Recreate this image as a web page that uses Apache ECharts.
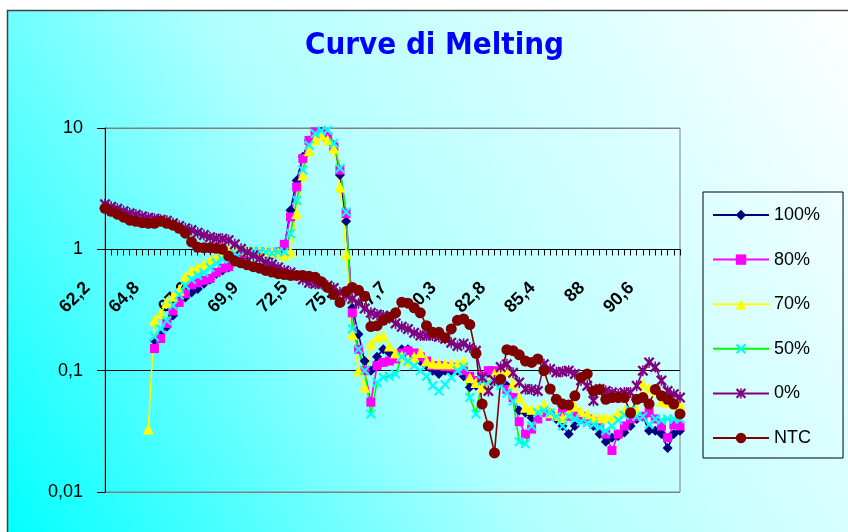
<!DOCTYPE html>
<html><head><meta charset="utf-8">
<script src="https://cdn.jsdelivr.net/npm/echarts@6/dist/echarts.min.js"></script>
<style>html,body{margin:0;padding:0;background:#fff}#c{width:848px;height:532px}</style>
</head><body><div id="c"></div>
<script>
// x axis: one category per reading, a label every 8 readings
const tickLabels = ['62,2','64,8','67,3','69,9','72,5','75,1','77,7','80,3','82,8','85,4','88','90,6'];
const labelEvery = 8;
const nCategories = 94;

const seriesNames = ['100%','80%','70%','50%','0%','NTC'];

const s100 = [null,null,null,null,null,null,null,null,
 0.177,0.2,0.23,0.285,0.38,0.40,0.44,0.47,0.52,0.565,0.63,0.67,0.71,0.80,0.84,
 0.9,0.92,0.93,0.92,0.9,0.95,1.04,
 2.1,3.7,5.8,7.9,9.2,9.3,8.9,7.2,4.1,1.7,
 0.33,0.2,0.12,0.1,0.13,0.15,0.14,0.13,0.15,0.15,0.13,0.12,0.11,0.1,0.094,0.1,0.1,0.1,0.09,0.073,
 0.075,0.09,0.095,0.09,0.085,0.075,0.06,0.047,0.045,0.041,0.045,0.047,0.045,0.04,0.035,0.03,0.035,0.04,0.042,0.035,
 0.03,0.026,0.028,0.029,0.031,0.035,0.04,0.042,0.032,0.032,0.03,0.023,0.03,0.032];

const s80 = [null,null,null,null,null,null,null,null,
 0.152,0.184,0.245,0.31,0.365,0.43,0.51,0.53,0.555,0.575,0.645,0.70,0.72,0.84,0.91,
 0.93,0.95,0.95,0.94,0.92,0.95,1.1,
 1.85,3.27,5.6,7.9,9.3,9.0,8.5,7.0,4.5,1.97,
 0.3,0.15,0.1,0.055,0.11,0.117,0.12,0.125,0.14,0.146,0.14,0.13,0.12,0.11,0.11,0.108,0.107,0.104,0.1,0.09,
 0.083,0.09,0.1,0.1,0.085,0.07,0.06,0.038,0.03,0.033,0.04,0.045,0.042,0.042,0.045,0.042,0.045,0.042,0.04,0.038,
 0.035,0.03,0.022,0.03,0.035,0.04,0.042,0.042,0.045,0.04,0.035,0.028,0.036,0.035];

const s70 = [null,null,null,null,null,null,null,0.033,
 0.26,0.296,0.365,0.41,0.46,0.6,0.67,0.71,0.75,0.81,0.86,0.93,0.97,1.0,1.0,
 0.98,0.97,0.97,0.96,0.95,0.94,0.9,
 0.95,1.97,4.1,6.5,8.0,8.75,8.0,6.8,3.27,0.92,
 0.2,0.1,0.073,0.166,0.188,0.195,0.16,0.14,0.133,0.12,0.13,0.141,0.12,0.115,0.114,0.114,0.114,0.114,0.12,0.088,
 0.08,0.073,0.08,0.094,0.1,0.1,0.078,0.06,0.05,0.048,0.048,0.053,0.045,0.043,0.041,0.045,0.051,0.046,0.044,0.041,
 0.041,0.041,0.041,0.045,0.047,0.047,0.047,0.078,0.072,0.068,0.056,0.055,0.053,0.053];

const s50 = [null,null,null,null,null,null,null,null,
 0.19,0.22,0.258,0.345,0.42,0.5,0.565,0.61,0.645,0.71,0.77,0.83,0.875,0.93,0.96,
 0.95,0.97,0.96,0.95,0.93,0.95,0.95,
 1.35,2.54,4.5,7.2,9.0,9.5,9.6,7.5,4.65,2.03,
 0.22,0.15,0.1,0.044,0.08,0.088,0.09,0.094,0.13,0.12,0.11,0.1,0.09,0.075,0.068,0.077,0.088,0.1,0.107,0.06,
 0.044,0.083,0.08,0.078,0.075,0.065,0.056,0.026,0.025,0.035,0.045,0.047,0.045,0.042,0.035,0.042,0.04,0.038,0.037,0.036,
 0.034,0.032,0.035,0.039,0.043,0.047,0.042,0.042,0.036,0.04,0.039,0.04,0.04,0.04];

const s0 = [2.35,2.24,2.16,2.06,1.98,1.93,1.87,1.82,1.79,1.75,1.72,1.64,1.56,1.49,1.44,1.37,1.31,1.26,1.23,1.22,
 1.19,1.10,1.01,0.945,0.89,0.84,0.785,0.75,0.71,0.67,0.645,0.61,0.565,0.53,0.52,0.52,0.50,0.48,0.44,0.415,
 0.39,0.36,0.325,0.30,0.29,0.285,0.27,0.245,0.23,0.22,0.205,0.195,0.195,0.195,0.19,0.183,0.17,0.16,0.167,0.155,
 0.146,0.088,0.068,0.083,0.107,0.113,0.096,0.08,0.0706,0.07,0.068,0.113,0.103,0.097,0.098,0.1,0.094,0.083,0.075,0.0565,
 0.0706,0.068,0.066,0.064,0.066,0.066,0.075,0.1,0.117,0.107,0.083,0.068,0.064,0.06];

const sNTC = [2.18,2.06,1.95,1.84,1.74,1.70,1.66,1.64,1.64,1.70,1.64,1.58,1.49,1.36,1.15,1.04,1.03,1.03,1.02,1.0,
 0.88,0.80,0.775,0.745,0.72,0.70,0.67,0.65,0.63,0.62,0.61,0.61,0.61,0.60,0.59,0.54,0.485,0.425,0.365,0.45,
 0.485,0.46,0.41,0.231,0.235,0.26,0.276,0.30,0.367,0.36,0.33,0.30,0.235,0.207,0.207,0.187,0.221,0.26,0.267,0.24,
 0.139,0.053,0.035,0.021,0.085,0.149,0.146,0.135,0.12,0.117,0.125,0.1,0.0706,0.058,0.053,0.052,0.062,0.088,0.094,0.068,
 0.07,0.058,0.06,0.06,0.06,0.045,0.058,0.06,0.053,0.07,0.062,0.058,0.053,0.044];

const categories = [];
for (let i = 0; i < nCategories; i++) categories.push(String(i));

const X_PATH = 'path://M0,1.5L1.5,0L5,3.5L8.5,0L10,1.5L6.5,5L10,8.5L8.5,10L5,6.5L1.5,10L0,8.5L3.5,5Z';
const STAR_PATH = 'path://M0,1.5L1.5,0L5,3.5L8.5,0L10,1.5L6.5,5L10,8.5L8.5,10L5,6.5L1.5,10L0,8.5L3.5,5Z M4.3,0L5.7,0L5.7,10L4.3,10Z';

const FONT = 'Liberation Sans, Arial, sans-serif';

function mk(name, data, lineColor, markColor, symbol, size) {
  return {
    name, type: 'line', data, symbol, symbolSize: size,
    xAxisIndex: 0, yAxisIndex: 0,
    showSymbol: true, showAllSymbol: true,
    connectNulls: false, animation: false,
    lineStyle: { color: lineColor, width: 1.6 },
    itemStyle: { color: markColor, borderWidth: 0 },
    emphasis: { disabled: true }
  };
}

const PLOT = { left: 105, top: 128, right: 168 };
const AXIS_Y = 249.5;

const chart = echarts.init(document.getElementById('c'));
chart.setOption({
  backgroundColor: { type: 'linear', x: 0, y: 1, x2: 1, y2: 0, colorStops: [
    { offset: 0, color: '#00FFFF' }, { offset: 0.45, color: '#B0FFFF' }, { offset: 1, color: '#FFFFFF' }] },
  animation: false,
  graphic: [
    { type: 'rect', silent: true, shape: { x: 0, y: 0, width: 848, height: 10 }, style: { fill: '#ffffff' } },
    { type: 'rect', silent: true, shape: { x: 0, y: 0, width: 7, height: 532 }, style: { fill: '#ffffff' } },
    { type: 'polyline', silent: true, shape: { points: [[7.5, 532], [7.5, 10.5], [848, 10.5]] },
      style: { stroke: '#404040', lineWidth: 1.5, fill: null } }
  ],
  title: {
    text: 'Curve di Melting', left: 300, top: 25,
    textStyle: { color: '#0000FF', fontSize: 31, fontWeight: 'bold', fontFamily: 'DejaVu Sans Condensed, DejaVu Sans, sans-serif' }
  },
  legend: {
    orient: 'vertical', left: 703, top: 192,
    padding: [14, 23, 11, 9], itemGap: 26.6, itemWidth: 56, itemHeight: 13,
    borderColor: '#000', borderWidth: 1, backgroundColor: 'rgba(0,0,0,0)',
    textStyle: { fontSize: 18, color: '#000', fontFamily: FONT },
    data: seriesNames
  },
  grid: [
    { left: PLOT.left, top: PLOT.top, right: PLOT.right, bottom: 40, show: true, borderColor: '#808080', borderWidth: 1, backgroundColor: 'transparent' },
    // band above y = 1: its bottom edge carries the category axis
    { left: PLOT.left, top: PLOT.top, right: PLOT.right, height: AXIS_Y - PLOT.top, show: false }
  ],
  xAxis: [{
    type: 'category', data: categories, boundaryGap: false, gridIndex: 0,
    axisLine: { show: false }, axisTick: { show: false }, axisLabel: { show: false }, splitLine: { show: false }
  }, {
    type: 'category', data: categories, boundaryGap: false, gridIndex: 1, position: 'bottom',
    axisLine: { show: true, onZero: false, lineStyle: { color: '#000', width: 1 } },
    axisTick: { show: true, interval: 0, length: 6, inside: false, lineStyle: { color: '#000', width: 1 } },
    axisLabel: {
      interval: labelEvery - 1, rotate: 45, margin: 18, padding: [0, 25, 0, 0],
      fontSize: 18, fontWeight: 'bold', color: '#000', fontFamily: FONT,
      formatter: (v) => tickLabels[Number(v) / labelEvery] || ''
    },
    splitLine: { show: false }
  }],
  yAxis: [{
    type: 'log', logBase: 10, min: 0.01, max: 10, gridIndex: 0,
    axisLine: { show: true, lineStyle: { color: '#000', width: 1 } },
    axisTick: { show: true, length: 8, lineStyle: { color: '#000' } },
    axisLabel: { fontSize: 18, color: '#000', margin: 22, fontFamily: FONT,
      formatter: (v) => String(v).replace('.', ',') },
    splitLine: { show: true, lineStyle: { color: ['#808080', '#000', '#000', '#808080'], width: 1 } }
  }, {
    type: 'value', gridIndex: 1, min: 0, max: 1, show: false
  }],
  series: [
    mk('100%', s100, '#000080', '#000080', 'diamond', 10),
    mk('80%', s80, '#FF00FF', '#FF00FF', 'rect', 9),
    mk('70%', s70, '#FFFF00', '#FFFF00', 'triangle', 11),
    mk('50%', s50, '#00FF00', '#00FFFF', X_PATH, 10),
    mk('0%', s0, '#800080', '#800080', STAR_PATH, 11),
    mk('NTC', sNTC, '#800000', '#800000', 'circle', 11)
  ]
});
</script></body></html>
